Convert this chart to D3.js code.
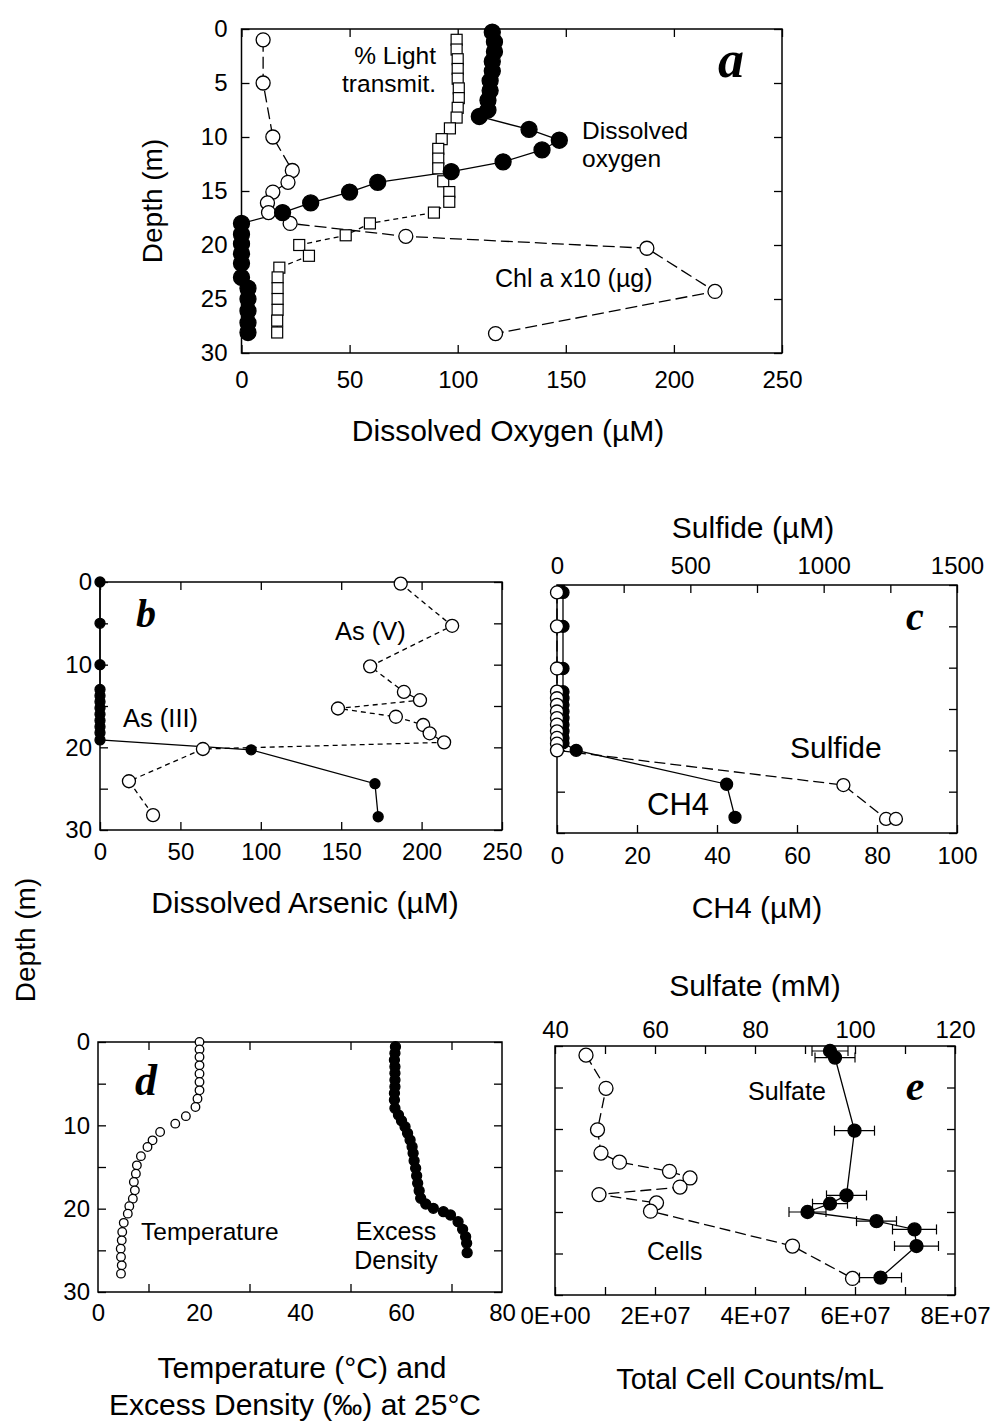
<!DOCTYPE html>
<html>
<head>
<meta charset="utf-8">
<script src="https://cdn.jsdelivr.net/npm/d3@7/dist/d3.min.js"></script>
<style>
  body { margin: 0; background: #fff; }
  svg text { font-family: "Liberation Sans", Arial, Helvetica, sans-serif; fill: #000; }
  svg text.tag { font-family: "Liberation Serif", "Times New Roman", serif; font-weight: bold; font-style: italic; }
</style>
</head>
<body>
<svg id="chart" width="993" height="1423"></svg>
<script>
// ---- panel a: oxygen, light, chlorophyll ----
const doDepth = [0.3, 1.2, 2.1, 3.0, 3.9, 4.8, 5.7, 6.6, 7.5, 8.1, 9.3, 10.3, 11.2, 12.3, 13.2, 14.2, 15.1, 16.1, 17.0, 18.0,
                 19.0, 19.9, 20.8, 21.7, 23.0, 24.0, 25.0, 26.1, 27.2, 28.1];
const doVal = [116, 117, 117, 116, 116, 115, 115, 114, 114, 110, 133, 147, 139, 121, 97, 63, 50, 32, 19, 0,
               0, 0, 0, 0, 0, 3, 3, 3, 3, 3];
const lightDepth = [1.0, 1.9, 2.8, 3.7, 4.6, 5.5, 6.4, 7.3, 8.2, 9.2, 10.2, 11.1, 12.0, 12.9, 14.1, 15.1, 16.0, 17.0, 18.0,
                    19.1, 20.0, 21.0, 22.1, 23.0, 24.0, 25.0, 26.0, 27.0, 28.1];
const lightVal = [99.5, 99.5, 100, 100, 100, 100.5, 100.5, 100, 99.5, 96.4, 92.6, 91, 91, 91, 93.3, 96.1, 96.1, 89, 59.4,
                  48.2, 26.7, 31.2, 17.5, 16.7, 16.7, 16.7, 16.7, 16.5, 16.5];
const chlDepth = [1.0, 5.0, 10.0, 13.1, 14.2, 15.1, 16.1, 17.0, 18.0, 19.2, 20.3, 24.3, 28.2];
const chlVal = [10, 10, 14.5, 23.5, 21.5, 14.5, 12, 12.5, 22.5, 76, 187.5, 219, 117.5];

// ---- panel b: arsenic ----
const as3Depth = [0, 5, 10, 13, 13.75, 14.5, 15.25, 16, 16.75, 17.5, 18.25, 19.1, 20.3, 24.4, 28.4];
const as3Val = [0, 0, 0, 0, 0, 0, 0, 0, 0, 0, 0, 0, 94, 171, 173];
const as5Depth = [0.2, 5.3, 10.2, 13.3, 14.3, 15.3, 16.3, 17.3, 18.3, 19.4, 20.2, 24.1, 28.2];
const as5Val = [187, 219, 168, 189, 199, 148, 184, 201, 205, 214, 64, 18, 33];

// ---- panel c: methane, sulfide ----
const ch4Depth = [0.9, 5, 10.1, 12.9, 13.7, 14.5, 15.3, 16.1, 16.9, 17.7, 18.5, 19.1, 20.0, 24.1, 28.1];
const ch4Val = [1.5, 1.5, 1.5, 1.5, 1.5, 1.5, 1.5, 1.5, 1.5, 1.5, 1.5, 1.5, 4.8, 42.4, 44.5];
const sulfideDepth = [0.9, 5, 10.1, 12.9, 13.7, 14.5, 15.3, 16.1, 16.9, 17.7, 18.5, 19.2, 20.0, 24.2, 28.3, 28.3];
const sulfideVal = [0, 0, 0, 0, 0, 0, 0, 0, 0, 0, 0, 0, 0, 1074, 1234, 1271];

// ---- panel d: temperature, excess density ----
const tempDepth = [0, 0.9, 1.8, 2.8, 3.8, 4.8, 5.8, 6.8, 7.8, 8.9, 9.8, 10.8, 11.8, 12.6, 13.7, 14.8, 15.8, 16.8, 17.8,
                   18.8, 19.7, 20.6, 21.7, 22.8, 23.8, 24.8, 25.8, 26.8, 27.8];
const tempVal = [20.1, 20.1, 20.1, 20.1, 20.1, 20.1, 20.1, 19.7, 19.3, 17.4, 15.3, 12.3, 10.8, 9.8, 8.5, 7.7, 7.5, 7.1, 7.3,
                 6.9, 6.2, 5.9, 5.1, 4.8, 4.7, 4.5, 4.55, 4.7, 4.55];
const densDepth = [0.56, 1.36, 2.16, 2.96, 3.76, 4.56, 5.36, 6.16, 6.96, 7.96, 8.76, 9.44, 10.16, 10.96, 11.76, 12.56, 13.36,
                   14.24, 15.16, 16.04, 16.96, 17.84, 18.76, 19.44, 19.96, 20.36, 20.76, 21.56, 22.48, 23.36, 24.16, 25.28];
const densVal = [58.9, 58.8, 58.7, 58.8, 58.8, 58.8, 58.8, 58.7, 58.7, 58.8, 59.5, 60.1, 60.8, 61.3, 61.8, 62.2, 62.4,
                 62.6, 62.9, 63.1, 63.3, 63.6, 63.9, 64.9, 66.4, 68.4, 69.8, 71.3, 72.2, 72.8, 73.0, 73.1];

// ---- panel e: cells, sulfate ----
const cellDepth = [1.1, 5.1, 10.1, 12.9, 14.0, 15.1, 15.9, 17.0, 17.9, 18.9, 19.9, 24.1, 28.0];
const cellVal = [0.62e7, 1.02e7, 0.85e7, 0.92e7, 1.29e7, 2.29e7, 2.7e7, 2.5e7, 0.88e7, 2.03e7, 1.91e7, 4.75e7, 5.95e7];
const sulfDepth = [0.6, 1.4, 10.2, 18.0, 19.0, 20.0, 21.1, 22.1, 24.1, 27.9];
const sulfVal = [95, 96, 99.9, 98.3, 95, 90.5, 104.3, 111.9, 112.3, 105.1];
const sulfErr = [3.6, 4, 4, 4, 3.5, 3.7, 4, 4.4, 4.4, 4.2];

// tick values
const depthTicks = d3.range(0, 31, 5);
const oxyTicks = d3.range(0, 251, 50);
const arsTicks = d3.range(0, 251, 50);
const ch4Ticks = d3.range(0, 101, 20);
const sulfideTicks = d3.range(0, 1501, 250);
const tdTicks = d3.range(0, 81, 10);
const cellTicks = d3.range(0, 8.01e7, 1e7);
const sulfateTicks = d3.range(40, 121, 10);

const svg = d3.select("#chart");

const pts = (depths, vals) => depths.map((d, i) => ({ d: d, v: vals[i] }));

// frame with inward ticks on all four sides
function frame(box, x, y, o) {
  const g = svg.append("g");
  g.append("rect")
    .attr("x", box.x0).attr("y", box.y0)
    .attr("width", box.x1 - box.x0).attr("height", box.y1 - box.y0)
    .attr("fill", "none").attr("stroke", "#000").attr("stroke-width", 1.5);

  const bottom = g.append("g").attr("transform", `translate(0,${box.y1})`)
    .call(d3.axisBottom(x).tickValues(o.bTicks).tickFormat(o.bFmt).tickSize(-8).tickPadding(o.bPad));
  const top = g.append("g").attr("transform", `translate(0,${box.y0})`)
    .call(d3.axisTop(o.xTop || x).tickValues(o.tTicks || o.bTicks).tickFormat(o.tFmt || (() => "")).tickSize(-8).tickPadding(o.tPad || 8));
  g.append("g").attr("transform", `translate(${box.x0},0)`)
    .call(d3.axisLeft(y).tickValues(depthTicks).tickFormat(o.lFmt || (() => "")).tickSize(-8).tickPadding(o.lPad || 8));
  g.append("g").attr("transform", `translate(${box.x1},0)`)
    .call(d3.axisRight(y).tickValues(depthTicks).tickFormat(() => "").tickSize(-8));

  if (o.hideTick) {
    bottom.selectAll(".tick line").filter(o.hideTick).remove();
    top.selectAll(".tick line").filter(o.hideTick).remove();
  }
  g.selectAll(".domain").remove();
  g.selectAll(".tick line").attr("stroke-width", 1.3);
  g.selectAll(".tick text").style("font-size", "24px");
  return g;
}

function line(data, x, y, dash) {
  svg.append("path").datum(data)
    .attr("fill", "none").attr("stroke", "#000").attr("stroke-width", 1.3)
    .attr("stroke-dasharray", dash)
    .attr("d", d3.line().x(p => x(p.v)).y(p => y(p.d)));
}

function dots(data, x, y, r, filled) {
  svg.append("g").selectAll("circle").data(data).join("circle")
    .attr("cx", p => x(p.v)).attr("cy", p => y(p.d)).attr("r", r)
    .attr("fill", filled ? "#000" : "#fff").attr("stroke", "#000").attr("stroke-width", 1.3);
}

function squares(data, x, y, s) {
  svg.append("g").selectAll("rect").data(data).join("rect")
    .attr("x", p => x(p.v) - s / 2).attr("y", p => y(p.d) - s / 2)
    .attr("width", s).attr("height", s)
    .attr("fill", "#fff").attr("stroke", "#000").attr("stroke-width", 1.2);
}

function label(txt, x, y, size, anchor, cls) {
  return svg.append("text").attr("x", x).attr("y", y)
    .attr("text-anchor", anchor || "start").attr("class", cls || null)
    .style("font-size", size + "px").text(txt);
}

function vlabel(txt, x, y, size) {
  svg.append("text").attr("transform", `translate(${x},${y}) rotate(-90)`)
    .attr("text-anchor", "middle").style("font-size", size + "px").text(txt);
}

// ================= panel a =================
const boxA = { x0: 241.5, x1: 782, y0: 29, y1: 353 };
const xA = d3.scaleLinear().domain([0, 250]).range([boxA.x0, boxA.x1]);
const yA = d3.scaleLinear().domain([0, 30]).range([boxA.y0, boxA.y1]);
frame(boxA, xA, yA, { bTicks: oxyTicks, bFmt: d3.format("d"), bPad: 18, lFmt: d3.format("d"), lPad: 14 });

line(pts(chlDepth, chlVal), xA, yA, "12,5");
line(pts(lightDepth, lightVal), xA, yA, "5,4");
line(pts(doDepth, doVal), xA, yA, null);
squares(pts(lightDepth, lightVal), xA, yA, 11);
dots(pts(chlDepth, chlVal), xA, yA, 7, false);
dots(pts(doDepth, doVal), xA, yA, 8, true);

label("% Light", 436, 64, 24.5, "end");
label("transmit.", 436, 92, 24.5, "end");
label("Dissolved", 582, 139, 24.5);
label("oxygen", 582, 167, 24.5);
label("Chl a x10 (\u00b5g)", 495, 287, 25);
label("a", 731, 77, 52, "middle", "tag");
vlabel("Depth (m)", 162, 201, 28);
label("Dissolved Oxygen (\u00b5M)", 508, 441, 30, "middle");

// ================= panel b =================
const boxB = { x0: 100, x1: 502, y0: 582, y1: 830 };
const xB = d3.scaleLinear().domain([0, 250]).range([boxB.x0, boxB.x1]);
const yB = d3.scaleLinear().domain([0, 30]).range([boxB.y0, boxB.y1]);
frame(boxB, xB, yB, { bTicks: arsTicks, bFmt: d3.format("d"), bPad: 13, lFmt: d => d % 10 === 0 ? d : "", lPad: 8 });

line(pts(as5Depth, as5Val), xB, yB, "5,4");
line(pts(as3Depth, as3Val), xB, yB, null);
dots(pts(as5Depth, as5Val), xB, yB, 6.5, false);
dots(pts(as3Depth, as3Val), xB, yB, 5, true);

label("As (V)", 335, 640, 25.5);
label("As (III)", 123, 727, 25.5);
label("b", 146, 627, 40, "middle", "tag");
label("Dissolved Arsenic (\u00b5M)", 305, 913, 30, "middle");

// ================= panel c =================
const boxC = { x0: 557, x1: 957, y0: 585, y1: 833 };
const xC = d3.scaleLinear().domain([0, 100]).range([boxC.x0, boxC.x1]);
const xCs = d3.scaleLinear().domain([0, 1500]).range([boxC.x0, boxC.x1]);
const yC = d3.scaleLinear().domain([0, 30]).range([boxC.y0, boxC.y1]);
frame(boxC, xC, yC, {
  bTicks: ch4Ticks, bFmt: d3.format("d"), bPad: 14,
  xTop: xCs, tTicks: sulfideTicks, tFmt: d => d % 500 === 0 ? d : "", tPad: 11
});

line(pts(sulfideDepth, sulfideVal), xCs, yC, "11,5");
line(pts(ch4Depth, ch4Val), xC, yC, null);
dots(pts(ch4Depth, ch4Val), xC, yC, 6, true);
dots(pts(sulfideDepth, sulfideVal), xCs, yC, 6.5, false);

label("Sulfide", 790, 758, 30);
label("CH4", 647, 815, 31);
label("c", 915, 630, 40, "middle", "tag");
label("Sulfide (\u00b5M)", 753, 538, 30, "middle");
label("CH4 (\u00b5M)", 757, 918, 30, "middle");

// ================= panel d =================
const boxD = { x0: 98, x1: 502, y0: 1042, y1: 1292 };
const xD = d3.scaleLinear().domain([0, 80]).range([boxD.x0, boxD.x1]);
const yD = d3.scaleLinear().domain([0, 30]).range([boxD.y0, boxD.y1]);
frame(boxD, xD, yD, {
  bTicks: tdTicks, bFmt: d => d % 20 === 0 ? d : "", bPad: 12,
  lFmt: d => d % 10 === 0 ? d : "", lPad: 8, hideTick: d => d % 20 === 0
});

dots(pts(tempDepth, tempVal), xD, yD, 4.3, false);
dots(pts(densDepth, densVal), xD, yD, 5, true);

label("Temperature", 141, 1240, 24.5);
label("Excess", 396, 1240, 25, "middle");
label("Density", 396, 1269, 25, "middle");
label("d", 146, 1095, 44, "middle", "tag");
label("Temperature (\u00b0C) and", 302, 1378, 30, "middle");
label("Excess Density (\u2030) at 25\u00b0C", 295, 1415, 30, "middle");

// ================= panel e =================
const boxE = { x0: 555, x1: 955, y0: 1046, y1: 1295 };
const xE = d3.scaleLinear().domain([0, 8e7]).range([boxE.x0, boxE.x1]);
const xEs = d3.scaleLinear().domain([40, 120]).range([boxE.x0, boxE.x1]);
const yE = d3.scaleLinear().domain([0, 30]).range([boxE.y0, boxE.y1]);
frame(boxE, xE, yE, {
  bTicks: cellTicks, bPad: 12,
  bFmt: d => Math.round(d / 1e7) % 2 === 0 ? (d === 0 ? "0E+00" : Math.round(d / 1e7) + "E+07") : "",
  xTop: xEs, tTicks: sulfateTicks, tFmt: d => d % 20 === 0 ? d : "", tPad: 8
});

line(pts(cellDepth, cellVal), xE, yE, "11,5");
line(pts(sulfDepth, sulfVal), xEs, yE, null);

// sulfate error bars
const errG = svg.append("g").attr("stroke", "#000").attr("stroke-width", 1.2);
sulfDepth.forEach((d, i) => {
  const y = yE(d), xl = xEs(sulfVal[i] - sulfErr[i]), xr = xEs(sulfVal[i] + sulfErr[i]);
  errG.append("line").attr("x1", xl).attr("x2", xr).attr("y1", y).attr("y2", y);
  errG.append("line").attr("x1", xl).attr("x2", xl).attr("y1", y - 5).attr("y2", y + 5);
  errG.append("line").attr("x1", xr).attr("x2", xr).attr("y1", y - 5).attr("y2", y + 5);
});

dots(pts(cellDepth, cellVal), xE, yE, 7, false);
dots(pts(sulfDepth, sulfVal), xEs, yE, 6.5, true);

label("Sulfate", 748, 1100, 25);
label("Cells", 647, 1260, 25);
label("e", 915, 1100, 42, "middle", "tag");
label("Sulfate (mM)", 755, 996, 30, "middle");
label("Total Cell Counts/mL", 750, 1389, 29, "middle");

// shared depth title for b-e
vlabel("Depth (m)", 35, 940, 28);
</script>
</body>
</html>
